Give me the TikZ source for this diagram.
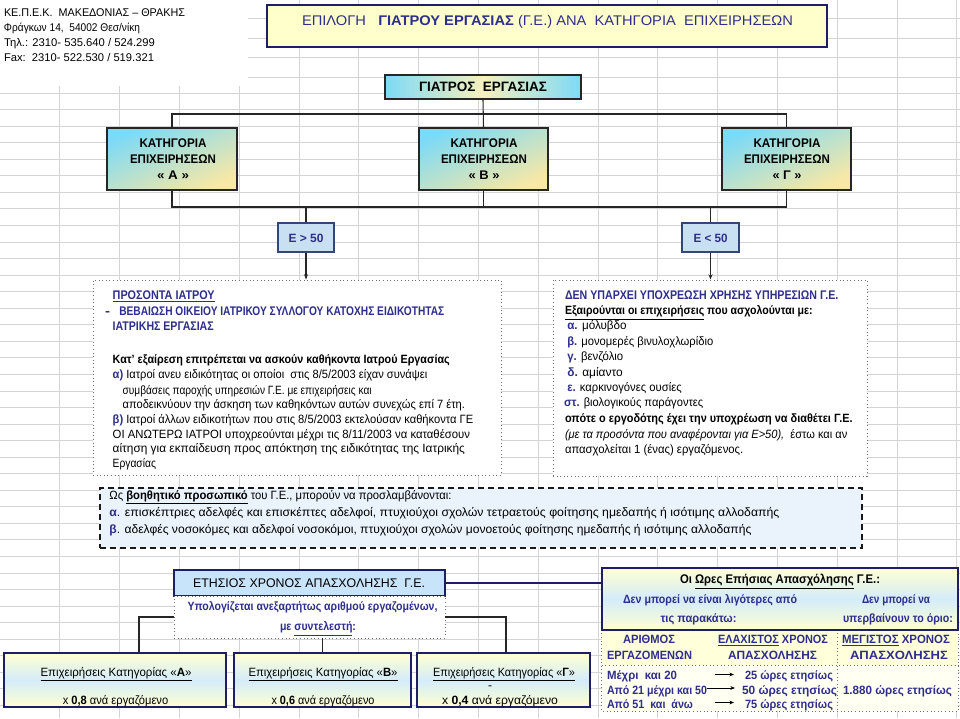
\documentclass[tikz,border=0pt]{standalone}
\usepackage{fontspec}
\setmainfont{Liberation Sans}
\usepackage{graphicx}
\usetikzlibrary{fit,arrows.meta,calc}
\definecolor{navy}{RGB}{46,46,140}
\definecolor{boxnavy}{RGB}{30,30,100}
\definecolor{titlefill}{RGB}{255,255,204}
\definecolor{cyanA}{RGB}{125,218,246}
\definecolor{yelA}{RGB}{248,232,165}
\definecolor{yelB}{RGB}{246,240,190}
\definecolor{eboxf}{RGB}{200,224,242}
\definecolor{eboxd}{RGB}{50,70,120}
\definecolor{etfill}{RGB}{200,228,250}
\definecolor{dashfill}{RGB}{234,242,252}
\definecolor{paleY}{RGB}{255,255,208}
\definecolor{midB}{RGB}{212,236,250}
\definecolor{tbh}{RGB}{255,255,218}
\definecolor{tbd}{RGB}{255,255,242}
\definecolor{gridc}{RGB}{212,212,212}
\definecolor{dotc}{RGB}{110,110,120}
\newsavebox\ftbox
\newcommand\fitw[2]{\sbox\ftbox{#2}\edef\ftw{\the\wd\ftbox}\pgfmathsetmacro\ftsx{0.75*(#1)/\ftw}\scalebox{\ftsx}[1]{\usebox\ftbox}}
\newcommand\TL[5][]{\node[txt,anchor=base west,#1] (#2) at (#3) {\fitw{#4}{#5}};}
\newcommand\TC[5][]{\node[txt,anchor=base,#1] (#2) at (#3) {\fitw{#4}{#5}};}
\tikzset{
 gridl/.style={draw=gridc, line width=0.5pt},
 txt/.style={inner sep=0pt, outer sep=0pt, font=\fontsize{9}{10}\selectfont},
 boldf/.style={font=\fontsize{9}{10}\selectfont\bfseries},
 bigbf/.style={font=\fontsize{9.4}{10}\selectfont\bfseries},
 hdrf/.style={font=\fontsize{8.4}{9}\selectfont},
 conn/.style={draw=black!85, line width=0.8pt},
 titlebox/.style={draw=boxnavy, line width=1.5pt, fill=titlefill, inner sep=0pt},
 giabox/.style={draw=black!85, line width=1.6pt, left color=cyanA, right color=cyanA, middle color=yelB, inner sep=0pt},
 catbox/.style={draw=black!85, line width=1.6pt, top color=cyanA, bottom color=yelA, shading angle=25, inner sep=0pt},
 ebox/.style={draw=eboxd, line width=1.5pt, fill=eboxf, inner sep=0pt},
 notebox/.style={draw=dotc, dotted, line width=0.7pt, fill=white, inner sep=0pt},
 dashbox/.style={draw=black!90, line width=1.2pt, dash pattern=on 4.5pt off 3pt, fill=dashfill, inner sep=0pt},
 etbox/.style={draw=boxnavy, line width=1.5pt, fill=etfill, inner sep=0pt},
 grbox/.style={draw=boxnavy, line width=1.1pt, top color=paleY, bottom color=paleY, middle color=midB, inner sep=0pt},
 dotline/.style={draw=dotc, dotted, line width=0.7pt},
 arr/.style={draw=black, line width=0.6pt, -{Stealth[length=3.5pt,width=2.8pt]}},
}
\begin{document}
\begin{tikzpicture}[x=0.75pt,y=-0.75pt]
\useasboundingbox (0,0) rectangle (960,718);
\fill[white] (0,0) rectangle (960,718);
% spreadsheet grid
\foreach \k in {1,...,16} \draw[gridl] (59.8*\k,0) -- (59.8*\k,718);
\foreach \yy in {18,38,57,77,93} \draw[gridl] (0,\yy) -- (960,\yy);
\foreach \k in {0,...,36} \draw[gridl] (0,109.5+16.55*\k) -- (960,109.5+16.55*\k);
\fill[white] (0,0) rectangle (248,86);

% header
\TL[hdrf]{h1}{4,16}{181}{ΚΕ.Π.Ε.Κ.\ \ ΜΑΚΕΔΟΝΙΑΣ – ΘΡΑΚΗΣ}
\TL[hdrf]{h2}{4,31}{136}{Φράγκων 14,\ \ 54002 Θεσ/νίκη}
\TL[hdrf]{h3}{4,46}{151}{Τηλ.: 2310- 535.640 / 524.299}
\TL[hdrf]{h4}{4,61.5}{150}{Fax:\ \ 2310- 522.530 / 519.321}

% title
\node[titlebox, fit={(267,5) (827,47)}] (title) {};
\TL[font=\fontsize{10.5}{12}\selectfont, text=navy]{tt}{302,25}{491}{ΕΠΙΛΟΓΗ\ \ \ \textbf{ΓΙΑΤΡΟΥ ΕΡΓΑΣΙΑΣ} (Γ.Ε.) ΑΝΑ\ \ ΚΑΤΗΓΟΡΙΑ\ \ ΕΠΙΧΕΙΡΗΣΕΩΝ}

% doctor box
\node[giabox, fit={(385,75) (581,99)}] (gia) {};
\TC[font=\fontsize{10.2}{12}\selectfont\bfseries]{gt}{483,91.8}{128}{ΓΙΑΤΡΟΣ\ \ ΕΡΓΑΣΙΑΣ}

% categories
\node[catbox, fit={(107,128) (237,190)}] (catA) {};
\node[catbox, fit={(419,128) (548,190)}] (catB) {};
\node[catbox, fit={(722,128) (851,190)}] (catG) {};
\TC[bigbf]{ca1}{173,147.5}{67}{ΚΑΤΗΓΟΡΙΑ}
\TC[bigbf]{ca2}{173,163.5}{86}{ΕΠΙΧΕΙΡΗΣΕΩΝ}
\TC[bigbf]{ca3}{173,179.5}{32}{« Α »}
\TC[bigbf]{cb1}{484,147.5}{67}{ΚΑΤΗΓΟΡΙΑ}
\TC[bigbf]{cb2}{484,163.5}{86}{ΕΠΙΧΕΙΡΗΣΕΩΝ}
\TC[bigbf]{cb3}{484,179.5}{31}{« Β »}
\TC[bigbf]{cg1}{787,147.5}{67}{ΚΑΤΗΓΟΡΙΑ}
\TC[bigbf]{cg2}{787,163.5}{86}{ΕΠΙΧΕΙΡΗΣΕΩΝ}
\TC[bigbf]{cg3}{787,179.5}{29}{« Γ »}

\coordinate (j1) at (483,114);
\coordinate (j2) at (483,207);
\draw[conn] (gia.south) -- (catB.north);
\draw[conn] (catA.north) -- (catA.north |- j1) -- (catG.north |- j1) -- (catG.north);
\draw[conn] (catA.south) -- (catA.south |- j2) -- (catG.south |- j2) -- (catG.south);
\draw[conn] (catB.south) -- (catB.south |- j2);

% E boxes
\node[ebox, fit={(278,223) (334,252)}] (e1) {};
\node[ebox, fit={(682,223) (739,252)}] (e2) {};
\TC[boldf, text=navy]{e1t}{306,242}{35}{Ε > 50}
\TC[boldf, text=navy]{e2t}{710.5,242}{34}{Ε < 50}
\draw[conn] (e1.north |- j2) -- (e1.north);
\draw[conn] (e2.north |- j2) -- (e2.north);

% text boxes
\node[notebox, fit={(93,280) (501,475)}] (lbox) {};
\node[notebox, fit={(553,280) (867,476)}] (rbox) {};
\draw[conn, -{Stealth[length=4pt,width=3pt]}] (e1.south) -- (e1.south |- lbox.north);
\draw[conn, -{Stealth[length=4pt,width=3pt]}] (e2.south) -- (e2.south |- rbox.north);

% left box text
\TL[bigbf, text=navy]{l1}{112.7,299}{102}{\underline{ΠΡΟΣΟΝΤΑ ΙΑΤΡΟΥ}}
\TL[bigbf, text=navy]{l2a}{105,315.7}{5}{-}
\TL[bigbf, text=navy]{l2}{119.3,315.7}{325}{ΒΕΒΑΙΩΣΗ ΟΙΚΕΙΟΥ ΙΑΤΡΙΚΟΥ ΣΥΛΛΟΓΟΥ ΚΑΤΟΧΗΣ ΕΙΔΙΚΟΤΗΤΑΣ}
\TL[bigbf, text=navy]{l3}{112.7,330.7}{101}{ΙΑΤΡΙΚΗΣ ΕΡΓΑΣΙΑΣ}
\TL[boldf]{l4}{112.7,363}{337}{Κατ' εξαίρεση επιτρέπεται να ασκούν καθήκοντα Ιατρού Εργασίας}
\TL{l5}{112.7,378.3}{314.6}{\textcolor{navy}{\textbf{α)}} Ιατροί ανευ ειδικότητας οι οποίοι\ \ στις 8/5/2003 είχαν συνάψει}
\TL{l6}{122.7,394}{249}{συμβάσεις παροχής υπηρεσιών Γ.Ε. με επιχειρήσεις και}
\TL{l7}{122.7,408}{342.3}{αποδεικνύουν την άσκηση των καθηκόντων αυτών συνεχώς επί 7 έτη.}
\TL{l8}{112.7,423}{360.6}{\textcolor{navy}{\textbf{β)}} Ιατροί άλλων ειδικοτήτων που στις 8/5/2003 εκτελούσαν καθήκοντα ΓΕ}
\TL{l9}{112.7,438}{357.3}{ΟΙ ΑΝΩΤΕΡΩ ΙΑΤΡΟΙ υποχρεούνται μέχρι τις 8/11/2003 να καταθέσουν}
\TL{l10}{112.7,452.3}{352.3}{αίτηση για εκπαίδευση προς απόκτηση της ειδικότητας της Ιατρικής}
\TL{l11}{112.7,467.3}{43.3}{Εργασίας}

% right box text
\TL[bigbf, text=navy]{r1}{565,299}{273.3}{ΔΕΝ ΥΠΑΡΧΕΙ ΥΠΟΧΡΕΩΣΗ ΧΡΗΣΗΣ ΥΠΗΡΕΣΙΩΝ Γ.Ε.}
\TL[boldf]{r2}{565,314.7}{247.7}{\underline{Εξαιρούνται οι επιχειρήσεις} που ασχολούνται με:}
\TL{r3}{567.3,329.7}{59.4}{\textcolor{navy}{\textbf{α.}} μόλυβδο}
\TL{r4}{567.3,345.3}{146}{\textcolor{navy}{\textbf{β.}} μονομερές βινυλοχλωρίδιο}
\TL{r5}{567.3,360.7}{56}{\textcolor{navy}{\textbf{γ.}} βενζόλιο}
\TL{r6}{567.3,376}{55.4}{\textcolor{navy}{\textbf{δ.}} αμίαντο}
\TL{r7}{567.3,391.3}{114.4}{\textcolor{navy}{\textbf{ε.}} καρκινογόνες ουσίες}
\TL{r8}{564,406.7}{139.3}{\textcolor{navy}{\textbf{στ.}} βιολογικούς παράγοντες}
\TL[boldf]{r9}{565,422.3}{287.7}{οπότε ο εργοδότης έχει την υποχρέωση να διαθέτει Γ.Ε.}
\TL{r10}{565,438}{282.3}{\textit{(με τα προσόντα που αναφέρονται για Ε>50),}\ \ έστω και αν}
\TL{r11}{565,453.3}{178.3}{απασχολείται 1 (ένας) εργαζόμενος.}

% auxiliary staff box
\node[dashbox, fit={(100,488) (862,548)}] (aux) {};
\TL{d1}{109.4,499}{342}{Ως \textbf{\underline{βοηθητικό προσωπικό}} του Γ.Ε., μπορούν να προσλαμβάνονται:}
\TL{d2}{109.4,516.7}{670}{\textcolor{navy}{\textbf{α}}. επισκέπτριες αδελφές και επισκέπτες αδελφοί, πτυχιούχοι σχολών τετραετούς φοίτησης ημεδαπής ή ισότιμης αλλοδαπής}
\TL{d3}{109.4,533.3}{642}{\textcolor{navy}{\textbf{β}}. αδελφές νοσοκόμες και αδελφοί νοσοκόμοι, πτυχιούχοι σχολών μονοετούς φοίτησης ημεδαπής ή ισότιμης αλλοδαπής}

% annual time
\node[etbox, fit={(174,570) (445,596)}] (et) {};
\TC[font=\fontsize{9.4}{10}\selectfont]{ett}{309,587.5}{232}{ΕΤΗΣΙΟΣ ΧΡΟΝΟΣ ΑΠΑΣΧΟΛΗΣΗΣ\ \ Γ.Ε.}
\node[notebox, fit={(174,596) (445,638)}] (ud) {};
\TC[boldf, text=navy]{ud1}{312.5,610.7}{250}{Υπολογίζεται ανεξαρτήτως αριθμού εργαζομένων,}
\TC[boldf, text=navy]{ud2}{318,630.7}{76}{με \underline{συντελεστή}:}

\node[grbox, fit={(4,653) (226,707)}] (bA) {};
\node[grbox, fit={(234,653) (411,707)}] (bB) {};
\node[grbox, fit={(417,653) (590,707)}] (bG) {};
\TC{ba1}{116,676}{151}{\underline{Επιχειρήσεις Κατηγορίας «\textbf{Α}»}}
\TC{ba2}{115.5,704}{105.5}{x \textbf{0,8} ανά εργαζόμενο}
\TC{bb1}{323,676}{149}{\underline{Επιχειρήσεις Κατηγορίας «\textbf{Β}»}}
\TC{bb2}{323,704}{103}{x \textbf{0,6} ανά εργαζόμενο}
\TC{bg1}{504,676}{142}{\underline{Επιχειρήσεις Κατηγορίας «\textbf{Γ}»}}
\TC{bg3}{490,689.5}{4}{-}
\TC{bg2}{500,704}{116}{x \textbf{0,4} ανά εργαζόμενο}

\coordinate (cA) at (139,0);
\coordinate (cG) at (506,0);
\draw[conn] (ud.west) -| (cA |- bA.north);
\draw[conn] (ud.east) -| (cG |- bG.north);
\draw[conn] (bB.north |- ud.south) -- (bB.north);

% hours table
\node[inner sep=0pt, fill=tbh, fit={(602,630) (958,665)}] (th) {};
\node[inner sep=0pt, fill=tbd, fit={(602,665) (958,711)}] (td) {};
\draw[dotline] (th.north west) rectangle (td.south east);
\draw[dotline] (th.south west) -- (th.south east);
\coordinate (vd) at (837,0);
\draw[dotline] (vd |- th.north) -- (vd |- td.south);
\node[grbox, fit={(602,568) (958,630)}] (hp) {};
\draw[draw=boxnavy, line width=1.1pt] (et.east) -- (et.east -| hp.west);

\TC[bigbf]{hp1}{780,583.3}{200}{Οι \underline{Ωρες Επήσιας Απασχόλησης} Γ.Ε.:}
\TC[boldf, text=navy]{hp2}{710,603.3}{174}{Δεν μπορεί να είναι λιγότερες από}
\TC[boldf, text=navy]{hp3}{698.5,622.3}{76}{τις παρακάτω:}
\TC[boldf, text=navy]{hp4}{896,603.3}{68}{Δεν μπορεί να}
\TC[boldf, text=navy]{hp5}{898,622.3}{110}{υπερβαίνουν το όριο:}

\TC[boldf, text=navy]{th1}{649,643.5}{52}{ΑΡΙΘΜΟΣ}
\TC[boldf, text=navy]{th2}{649.5,659.5}{85}{ΕΡΓΑΖΟΜΕΝΩΝ}
\TC[boldf, text=navy]{th3}{773,643.5}{110}{\underline{ΕΛΑΧΙΣΤΟΣ} ΧΡΟΝΟΣ}
\TC[boldf, text=navy]{th4}{772.5,659.5}{89}{ΑΠΑΣΧΟΛΗΣΗΣ}
\TC[boldf, text=navy]{th5}{896,643.5}{108}{\underline{ΜΕΓΙΣΤΟΣ} ΧΡΟΝΟΣ}
\TC[boldf, text=navy]{th6}{899,659.5}{98}{ΑΠΑΣΧΟΛΗΣΗΣ}

\TL[boldf, text=navy]{n1}{607,679}{70}{Μέχρι\ \ και 20}
\TL[boldf, text=navy]{n2}{607,694}{100}{Από 21 μέχρι και 50}
\TL[boldf, text=navy]{n3}{607,708.5}{86}{Από 51\ \ και\ \ άνω}
\TL[boldf, text=navy]{m1}{745,679}{88}{25 ώρες ετησίως}
\TL[boldf, text=navy]{m2}{742,694}{95}{50 ώρες ετησίως}
\TL[boldf, text=navy]{m3}{745,708.5}{88}{75 ώρες ετησίως}
\TL[boldf, text=navy]{mx}{843,694}{109}{1.880 ώρες ετησίως}
\coordinate (a1s) at (715,674.5); \coordinate (a1e) at (734,674.5);
\coordinate (a2s) at (707,688); \coordinate (a2e) at (735,688);
\coordinate (a3s) at (715,702.5); \coordinate (a3e) at (734,702.5);
\draw[arr] (a1s) -- (a1e);
\draw[arr] (a2s) -- (a2e);
\draw[arr] (a3s) -- (a3e);
\end{tikzpicture}
\end{document}
